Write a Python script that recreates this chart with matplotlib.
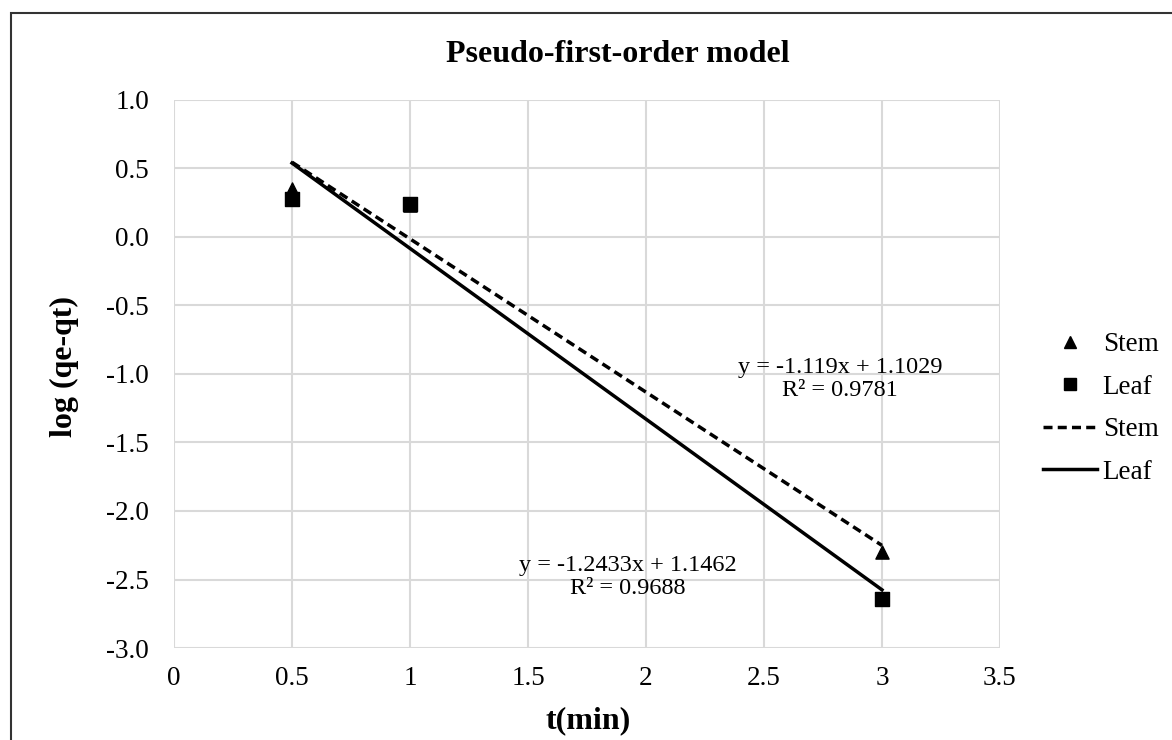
import numpy as np
import matplotlib.pyplot as plt
from matplotlib.lines import Line2D
from matplotlib.patches import Rectangle

plt.rcParams['font.family'] = ['Liberation Serif', 'DejaVu Serif']

t = [0.5, 1.0, 3.0]
stem = [0.35, 0.23, -2.30]
leaf = [0.28, 0.24, -2.64]

stem_eq = "y = -1.119x + 1.1029\nR² = 0.9781"
leaf_eq = "y = -1.2433x + 1.1462\nR² = 0.9688"

xticks = [0, 0.5, 1, 1.5, 2, 2.5, 3, 3.5]
xtick_labels = ['0', '0.5', '1', '1.5', '2', '2.5', '3', '3.5']
yticks = [-3.0, -2.5, -2.0, -1.5, -1.0, -0.5, 0.0, 0.5, 1.0]

fig = plt.figure(figsize=(11.72, 7.4), dpi=100)
ax = fig.add_axes([0.1485, 0.1243, 0.7047, 0.7407])

# outer chart frame
fig.patches.append(Rectangle((0.009, -0.05), 1.05, 1.032, transform=fig.transFigure,
                             fill=False, edgecolor='#333333', linewidth=1.5))

# trend lines
dash = (0, (2.6, 1.5))
xs = np.array([min(t), max(t)])
ps = np.polyfit(t, stem, 1)
pl = np.polyfit(t, leaf, 1)
ax.plot(xs, np.polyval(ps, xs), color='black', linestyle=dash, linewidth=2.5, zorder=3)
ax.plot(xs, np.polyval(pl, xs), color='black', linestyle='-', linewidth=2.5, zorder=3)

ax.scatter(t, stem, marker='^', s=90, color='black', zorder=4)
ax.scatter(t, leaf, marker='s', s=90, color='black', zorder=4)

ax.set_xlim(0, 3.5)
ax.set_ylim(-3.0, 1.0)
ax.set_xticks(xticks)
ax.set_xticklabels(xtick_labels)
ax.set_yticks(yticks)
ax.set_yticklabels([f'{v:.1f}' for v in yticks])
ax.tick_params(length=0, labelsize=19.5)
ax.tick_params(axis='y', pad=18)
ax.tick_params(axis='x', pad=13)
ax.grid(True, color='#d9d9d9', linewidth=1.5)
ax.set_axisbelow(True)
for s in ax.spines.values():
    s.set_visible(False)

ax.text(2.822, -1.036, stem_eq, ha='center', va='center', fontsize=17.5, linespacing=1.1)
ax.text(1.924, -2.482, leaf_eq, ha='center', va='center', fontsize=17.5, linespacing=1.1)

fig.text(0.527, 0.926, 'Pseudo-first-order model', ha='center', va='center',
         fontsize=23, fontweight='bold')
fig.text(0.5017, 0.0257, 't(min)', ha='center', va='center', fontsize=23, fontweight='bold')
fig.text(0.0546, 0.505, 'log (qe-qt)', ha='center', va='center', rotation=90,
         fontsize=23, fontweight='bold')

handles = [
    Line2D([], [], marker='^', color='black', linestyle='none', markersize=8),
    Line2D([], [], marker='s', color='black', linestyle='none', markersize=8),
    Line2D([], [], color='black', linestyle=dash, linewidth=2.5),
    Line2D([], [], color='black', linestyle='-', linewidth=2.5),
]
fig.legend(handles, ['Stem', 'Leaf', 'Stem', 'Leaf'], loc='center left',
           bbox_to_anchor=(0.89, 0.448), frameon=False, fontsize=19.5,
           handlelength=2.0, handletextpad=0.2, labelspacing=0.65,
           borderpad=0, borderaxespad=0)

fig.savefig('out.png', dpi=100)
